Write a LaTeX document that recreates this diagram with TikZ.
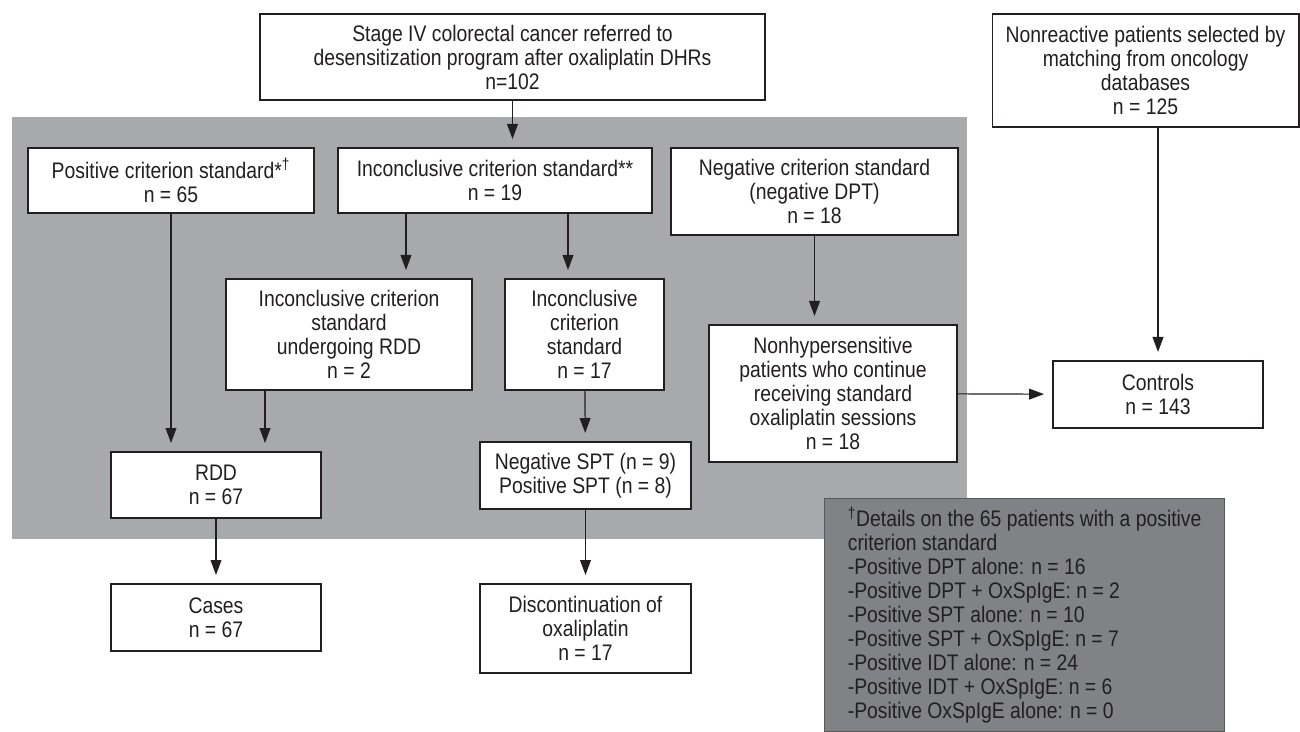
\documentclass[tikz,border=0pt]{standalone}
\usepackage{fontspec}
\setmainfont{Liberation Sans}[FakeStretch=0.86]
\usetikzlibrary{arrows.meta, positioning}

\definecolor{ink}{HTML}{231F20}
\definecolor{panelgray}{HTML}{A7A9AC}
\definecolor{notegray}{HTML}{808285}

\begin{document}
\begin{tikzpicture}[x=0.6pt, y=-0.6pt, font=\fontsize{13.5}{14.4}\selectfont]

\tikzset{
  box/.style={rectangle, draw=ink, line width=0.8pt, fill=white, text=ink, align=center, inner sep=1pt},
  notebox/.style={rectangle, draw=ink!75, line width=0.8pt, fill=notegray, text=ink, align=left, anchor=north west, inner sep=0pt},
  flow/.style={draw=ink, line width=0.7pt, -{Triangle[length=9pt, width=6.5pt]}, shorten >=5pt}
}

\useasboundingbox (0,0) rectangle (1300,732);

% --- Hintergrund: Desensibilisierung ---
\fill[panelgray] (11.6,117) rectangle (967,539);

% --- Knoten ---
\node[box, minimum width=303pt, minimum height=51.6pt] (top) at (512.5,57)
  {Stage IV colorectal cancer referred to\\desensitization program after oxaliplatin DHRs\\n=102};
\node[box, minimum width=184pt, minimum height=67.8pt] (nonr) at (1145.5,70.5)
  {Nonreactive patients selected by\\matching from oncology\\databases\\n = 125};

\node[box, minimum width=171.6pt, minimum height=39pt] (pos) at (171,180.5)
  {Positive criterion standard*\textsuperscript{†}\\n = 65};
\node[box, minimum width=188.4pt, minimum height=39pt] (incl) at (495,180.5)
  {Inconclusive criterion standard**\\n = 19};
\node[box, minimum width=172.2pt, minimum height=52.2pt] (neg) at (814.5,191.5)
  {Negative criterion standard\\(negative DPT)\\n = 18};

\node[box, minimum width=147.6pt, minimum height=66.6pt] (und) at (349,334.5)
  {Inconclusive criterion\\standard\\undergoing RDD\\n = 2};
\node[box, minimum width=95.4pt, minimum height=66.6pt] (n17) at (584.5,334.5)
  {Inconclusive\\criterion\\standard\\n = 17};
\node[box, minimum width=148.8pt, minimum height=82.2pt] (nonhyp) at (833,393.5)
  {Nonhypersensitive\\patients who continue\\receiving standard\\oxaliplatin sessions\\n = 18};
\node[box, minimum width=126pt, minimum height=40.2pt] (ctrl) at (1158,394.5)
  {Controls\\n = 143};

\node[box, minimum width=126pt, minimum height=39.6pt] (rdd) at (216,485)
  {RDD\\n = 67};
\node[box, minimum width=126.6pt, minimum height=40.2pt] (spt) at (585.5,475.5)
  {Negative SPT (n = 9)\\Positive SPT (n = 8)};

\node[box, minimum width=126pt, minimum height=40.2pt] (cases) at (216,617.5)
  {Cases\\n = 67};
\node[box, minimum width=126.6pt, minimum height=53.4pt] (disc) at (585.5,628.5)
  {Discontinuation of\\oxaliplatin\\n = 17};

% --- Fussnote ---
\node[notebox, minimum width=240pt, minimum height=139.8pt] (notes) at (824,498)
  {\textsuperscript{†}Details on the 65 patients with a positive\\
   criterion standard\\
   -Positive DPT alone: n = 16\\
   -Positive DPT + OxSpIgE: n = 2\\
   -Positive SPT alone: n = 10\\
   -Positive SPT + OxSpIgE: n = 7\\
   -Positive IDT alone: n = 24\\
   -Positive IDT + OxSpIgE: n = 6\\
   -Positive OxSpIgE alone: n = 0};

% --- Kanten ---
\draw[flow] (top.south) -- (top.south |- incl.north);
\draw[flow] (pos.south) -- (pos.south |- rdd.north);
\draw[flow] ([xshift=34.2pt]und.north |- incl.south) -- ([xshift=34.2pt]und.north);
\draw[flow] ([xshift=-9.9pt]n17.north |- incl.south) -- ([xshift=-9.9pt]n17.north);
\draw[flow] ([xshift=-50.4pt]und.south) -- ([xshift=-50.4pt]und.south |- rdd.north);
\draw[flow] (n17) -- (spt);
\draw[flow] (neg.south) -- (neg.south |- nonhyp.north);
\draw[flow] (ctrl.north |- nonr.south) -- (ctrl.north);
\draw[flow] (nonhyp) -- (ctrl);
\draw[flow] (rdd) -- (cases);
\draw[flow] (spt) -- (disc);

\end{tikzpicture}
\end{document}
